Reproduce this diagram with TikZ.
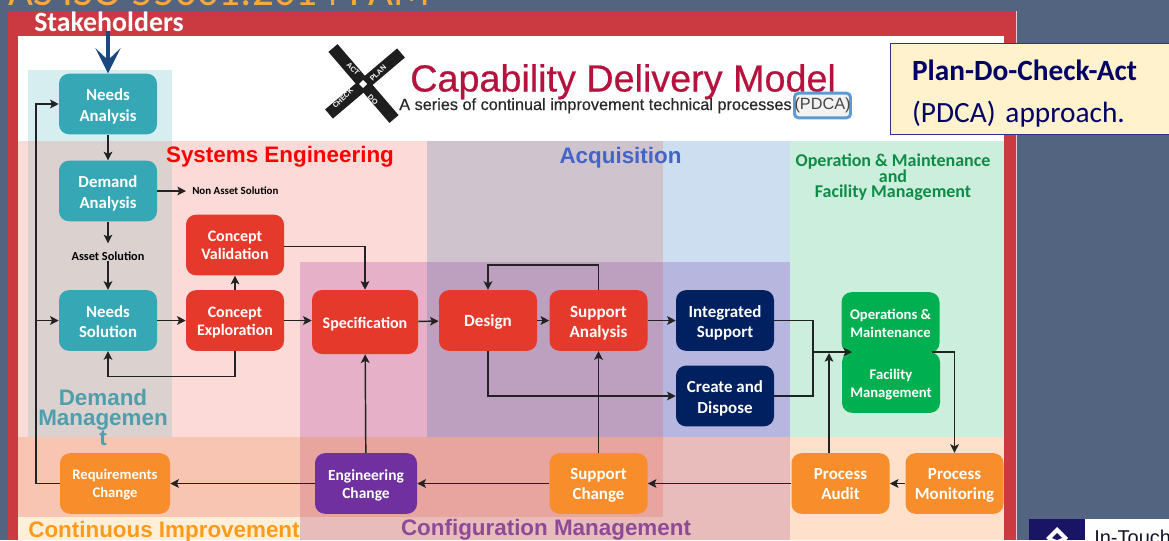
\documentclass[tikz,border=0pt]{standalone}
\usepackage{fontspec}
\setmainfont{Carlito}
\newfontfamily\arialfont{Liberation Sans}
\newfontfamily\titlefont[FakeBold=0.5]{Liberation Sans}
\usepackage{xcolor}
\usetikzlibrary{arrows.meta}
\tikzset{
  lift/.style={execute at begin node={\rule{0pt}{#1}}},
  procbox/.style={rounded corners=7.5pt,text={rgb, 255:red, 255; green, 255; blue, 255 },align=center,inner sep=0pt,minimum width=73.5pt,minimum height=45.5pt,execute at end node={\rule[-5pt]{0pt}{5pt}}},
  tealbox/.style={procbox,lift=31pt,fill={rgb, 255:red, 54; green, 167; blue, 181 },font=\fontsize{12.6}{15.5}\selectfont\bfseries},
  redplain/.style={procbox,fill={rgb, 255:red, 229; green, 57; blue, 43 },font=\fontsize{12}{13.5}\selectfont\bfseries},
  redbox/.style={redplain,lift=27pt},
  bigredbox/.style={redplain,lift=30.7pt,font=\fontsize{12.8}{15.2}\selectfont\bfseries},
  navybox/.style={procbox,lift=31pt,fill={rgb, 255:red, 0; green, 32; blue, 96 },font=\fontsize{12.7}{15.5}\selectfont\bfseries},
  greenbox/.style={procbox,lift=27pt,fill={rgb, 255:red, 0; green, 176; blue, 80 },font=\fontsize{11}{13.5}\selectfont\bfseries},
  orangeplain/.style={procbox,fill={rgb, 255:red, 247; green, 142; blue, 43 },font=\fontsize{12.7}{15}\selectfont\bfseries},
  orangebox/.style={orangeplain,lift=29pt},
  purplebox/.style={procbox,lift=27.5pt,fill={rgb, 255:red, 112; green, 48; blue, 160 },font=\fontsize{11.6}{13.5}\selectfont\bfseries},
  link/.style={draw={rgb, 255:red, 34; green, 34; blue, 34 },line width=1.1pt,-{Stealth[length=6.5pt,width=6.5pt,inset=1.5pt]}},
  plainlink/.style={draw={rgb, 255:red, 34; green, 34; blue, 34 },line width=1.1pt},
  heading/.style={font=\arialfont\bfseries\fontsize{16.8}{15}\selectfont,inner sep=0pt,align=center},
  smalllabel/.style={font=\fontsize{8.2}{10}\selectfont\bfseries,inner sep=0pt},
  crossbar/.style={draw={rgb, 255:red, 30; green, 30; blue, 30 },line width=9pt},
  crosstext/.style={text={rgb, 255:red, 255; green, 255; blue, 255 },font=\arialfont\bfseries\fontsize{5.4}{6}\selectfont,inner sep=0pt}
}
\begin{document}
\begin{tikzpicture}[x=0.75pt,y=0.75pt,yscale=-1,xscale=1]
\useasboundingbox (0,0) rectangle (1169,540);

%Shape: Slide background
\fill [fill={rgb, 255:red, 82; green, 100; blue, 127 }] (0,0) rectangle (1169,540);
%Shape: Red frame
\fill [fill={rgb, 255:red, 203; green, 58; blue, 64 }] (8,11) rectangle (1016,540);
\draw [draw={rgb, 255:red, 235; green, 200; blue, 205 },line width=0.6pt] (1016.5,11) -- (1016.5,540);
%Shape: White panel
\fill [fill={rgb, 255:red, 255; green, 255; blue, 255 }] (18,36) rectangle (1004,540);

%Shape: Zones
\fill [fill={rgb, 255:red, 251; green, 218; blue, 215 }] (18,141) rectangle (427,437);
\fill [fill={rgb, 255:red, 207; green, 196; blue, 206 }] (427,141) rectangle (663,262);
\fill [fill={rgb, 255:red, 205; green, 222; blue, 240 }] (663,141) rectangle (790,262);
\fill [fill={rgb, 255:red, 230; green, 177; blue, 200 }] (300,262) rectangle (427,437);
\fill [fill={rgb, 255:red, 189; green, 160; blue, 191 }] (427,262) rectangle (663,437);
\fill [fill={rgb, 255:red, 182; green, 182; blue, 223 }] (663,262) rectangle (790,437);
\fill [fill={rgb, 255:red, 204; green, 238; blue, 221 }] (790,141) rectangle (1004,437);
\fill [fill={rgb, 255:red, 247; green, 197; blue, 178 }] (18,437) rectangle (300,517);
\fill [fill={rgb, 255:red, 232; green, 165; blue, 160 }] (300,437) rectangle (663,517);
\fill [fill={rgb, 255:red, 233; green, 188; blue, 188 }] (300,517) rectangle (663,540);
\fill [fill={rgb, 255:red, 233; green, 188; blue, 188 }] (663,437) rectangle (790,540);
\fill [fill={rgb, 255:red, 255; green, 239; blue, 216 }] (18,517) rectangle (300,540);
\fill [fill={rgb, 255:red, 254; green, 224; blue, 203 }] (790,437) rectangle (1004,540);
\fill [fill={rgb, 255:red, 214; green, 238; blue, 240 }] (28,70) rectangle (172,141);
\fill [fill={rgb, 255:red, 219; green, 209; blue, 207 }] (28,141) rectangle (172,437);

%Shape: PDCA cross
\draw [crossbar] (333,48) -- (394,119);
\draw [crossbar] (401,53) -- (329,114);
\fill [fill={rgb, 255:red, 255; green, 255; blue, 255 }] (363,80) -- (367,84) -- (363,88) -- (359,84) -- cycle;
% Text Node
\draw (353,69) node (acttext) [crosstext,rotate=-45] {ACT};
\draw (378,73) node (plantext) [crosstext,rotate=45] {PLAN};
\draw (343,98) node (checktext) [crosstext,rotate=45] {CHECK};
\draw (373,100) node (dotext) [crosstext,rotate=-45] {DO};

% Text Node
\draw (410,91.5) node (title) [anchor=base west,inner sep=0pt,font=\titlefont\fontsize{28.3}{30}\selectfont,text={rgb, 255:red, 181; green, 18; blue, 62 }] {Capability Delivery Model};
\draw (399,110) node (subtitle) [anchor=base west,inner sep=0pt,font=\titlefont\fontsize{12.2}{14}\selectfont,text={rgb, 255:red, 40; green, 40; blue, 40 }] {A series of continual improvement technical processes};
\draw (822.5,105.5) node (pdca) [rounded corners=3pt,draw={rgb, 255:red, 91; green, 155; blue, 213 },line width=2.2pt,fill={rgb, 255:red, 242; green, 242; blue, 242 },minimum width=42pt,minimum height=18.5pt,inner sep=0pt,font=\arialfont\fontsize{12.2}{14}\selectfont,text={rgb, 255:red, 70; green, 70; blue, 70 }] {(PDCA)};

% Text Node
\draw (8,5) node (slidetitle) [anchor=base west,inner sep=0pt,font=\fontsize{32.3}{34}\selectfont,text={rgb, 255:red, 249; green, 168; blue, 60 }] {AS ISO 55001:2014 PAM};
\draw (34,31) node (stakeholders) [anchor=base west,inner sep=0pt,font=\fontsize{20.9}{22}\selectfont\bfseries,text={rgb, 255:red, 255; green, 255; blue, 255 }] {Stakeholders};

%Shape: Callout
\draw (890,43) node (callout) [anchor=north west,draw={rgb, 255:red, 46; green, 49; blue, 146 },line width=1.1pt,fill={rgb, 255:red, 255; green, 242; blue, 204 },minimum width=300pt,minimum height=68pt,text width=290pt,inner xsep=16pt,inner ysep=0pt,align=left,font=\fontsize{22}{31.5}\selectfont,text={rgb, 255:red, 0; green, 0; blue, 102 }] {\rule{0pt}{21.5pt}\textbf{Plan-Do-Check-Act}\\(PDCA) approach.};

%Shape: Footer logo
\fill [fill={rgb, 255:red, 255; green, 255; blue, 255 }] (1085,519) rectangle (1169,540);
\fill [fill={rgb, 255:red, 25; green, 20; blue, 100 }] (1029,519) rectangle (1085,540);
\fill [fill={rgb, 255:red, 255; green, 255; blue, 255 }] (1057,527) -- (1068,538) -- (1066,540) -- (1048,540) -- (1046,538) -- cycle;
\fill [fill={rgb, 255:red, 25; green, 20; blue, 100 }] (1057,533) -- (1062,538) -- (1057,540) -- (1052,538) -- cycle;
\draw (1094,544) node (intouch) [anchor=base west,inner sep=0pt,font=\arialfont\fontsize{15}{16}\selectfont,text={rgb, 255:red, 20; green, 20; blue, 40 }] {In-Touch};

% Process boxes
\draw (108,104) node (needsanalysis) [tealbox] {Needs\\Analysis};
\draw (108,191) node (demandanalysis) [tealbox] {Demand\\Analysis};
\draw (108,320.5) node (needssolution) [tealbox] {Needs\\Solution};
\draw (235,245) node (conceptvalidation) [redbox] {Concept\\Validation};
\draw (235,320.5) node (conceptexploration) [redbox] {Concept\\Exploration};
\draw (365,322) node (specification) [redplain,lift=14pt,minimum width=79.5pt,minimum height=48pt] {Specification};
\draw (488,320.5) node (design) [redplain,lift=14pt,font=\fontsize{12.8}{15.2}\selectfont\bfseries] {Design};
\draw (598.5,320.5) node (supportanalysis) [bigredbox] {Support\\Analysis};
\draw (725,320.5) node (integratedsupport) [navybox] {Integrated\\Support};
\draw (725,396) node (createdispose) [navybox] {Create and\\Dispose};
\draw (891,382.5) node (facility) [greenbox] {Facility\\Management};
\draw (890.5,322.5) node (operations) [greenbox] {Operations \&\\Maintenance};
\draw (840.5,483.5) node (processaudit) [orangebox] {Process\\Audit};
\draw (954.5,483.5) node (processmonitoring) [orangebox] {Process\\Monitoring};
\draw (598.5,483.5) node (supportchange) [orangebox] {Support\\Change};
\draw (366,483.5) node (engineeringchange) [purplebox,minimum width=76.5pt] {Engineering\\Change};
\draw (115,483.5) node (requirementschange) [orangeplain,lift=26.5pt,minimum width=82.5pt,font=\fontsize{11}{13.5}\selectfont\bfseries] {Requirements\\Change};

% Text Node
\draw (192,191) node (nonasset) [smalllabel,anchor=west] {Non Asset Solution};
\draw (108,256) node (assetsolution) [smalllabel,font=\fontsize{9.2}{10}\selectfont\bfseries] {Asset Solution};

% Named points
\coordinate (opsjoin) at (813,352);
\coordinate (opsin) at (852,352);
\coordinate (opsout) at (932,352);
\coordinate (auditfoot) at (829,453);
\coordinate (audittip) at (829,353);
\coordinate (returnline) at (36,320.5);

%Straight Lines
\draw [draw={rgb, 255:red, 28; green, 72; blue, 130 },line width=3.6pt,-{Stealth[length=19pt,width=19pt,inset=9pt]}] (stakeholders.south -| needsanalysis.north) -- (needsanalysis.north);
\draw [link] (needsanalysis) -- (demandanalysis);
\draw [link,shorten >=4.5pt] (demandanalysis.east) -- (nonasset.west);
\draw [link] (demandanalysis) -- ([yshift=-6pt]assetsolution.north);
\draw [link] (assetsolution.south) -- (needssolution.north);
\draw [link] (needssolution) -- (conceptexploration);
\draw [link] (conceptexploration) -- (conceptvalidation);
\draw [link] (conceptexploration) -- (specification.west |- conceptexploration);
\draw [link] (conceptexploration.south) -- ++(0,25.5) -| (needssolution.south);
\draw [link] ([yshift=1.1pt]conceptvalidation.east) -| (specification.north);
\draw [link] (specification) -- (design);
\draw [link] (design) -- (supportanalysis);
\draw [link] (supportanalysis.north) -- ++(0,-25) -| (design.north);
\draw [link] (supportanalysis) -- (integratedsupport);
\draw [link] (design.south) |- (createdispose.west);
\draw [plainlink] (integratedsupport.east) -| (opsjoin);
\draw [plainlink] (createdispose.east) -| (opsjoin);
\draw [link] (opsjoin) -- (opsin);
\draw [link] (auditfoot) -- (audittip);
\draw [link] (opsout) -| (processmonitoring.north);
\draw [link] (processmonitoring) -- (processaudit);
\draw [link] (processaudit) -- (supportchange);
\draw [link] (supportchange) -- (supportanalysis);
\draw [link] (supportchange) -- (engineeringchange);
\draw [link] (engineeringchange) -- (specification);
\draw [link] (engineeringchange) -- (requirementschange);
\draw [link] (requirementschange.west) -| (returnline) |- (needsanalysis.west);
\draw [link] (returnline) -- (needssolution.west);

% Text Node
\draw (280,157) node (systemseng) [heading,text={rgb, 255:red, 255; green, 0; blue, 0 }] {Systems Engineering};
\draw (620.5,158) node (acquisition) [heading,text={rgb, 255:red, 68; green, 100; blue, 200 }] {Acquisition};
\draw (893,177.5) node (operationhead) [font=\fontsize{13.5}{11.6}\selectfont\bfseries,align=center,inner sep=0pt,text={rgb, 255:red, 14; green, 140; blue, 69 }] {Operation \& Maintenance\\and\\Facility Management};
\draw (103,417) node (demandmgmt) [heading,text={rgb, 255:red, 78; green, 159; blue, 174 }] {Demand\\Managemen\\t};
\draw (164,532) node (continuous) [heading,text={rgb, 255:red, 255; green, 154; blue, 26 }] {Continuous Improvement};
\draw (546,530) node (configuration) [heading,text={rgb, 255:red, 142; green, 74; blue, 150 }] {Configuration Management};

\end{tikzpicture}
\end{document}
